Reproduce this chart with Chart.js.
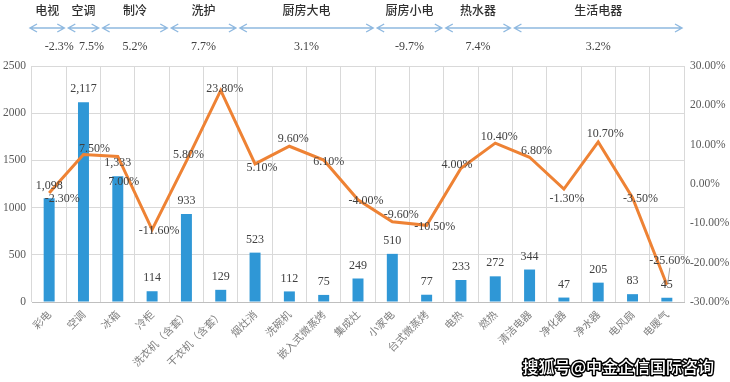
<!DOCTYPE html>
<html><head><meta charset="utf-8">
<script src="https://cdn.jsdelivr.net/npm/chart.js@4"></script>
<style>html,body{margin:0;padding:0;background:#fff}#wrap{width:730px;height:382px;position:relative}</style>
</head><body><div id="wrap"><canvas id="c" width="730" height="382"></canvas></div>
<script>
const categories = ['彩电','空调','冰箱','冷柜','洗衣机（含套）','干衣机（含套）','烟灶消','洗碗机','嵌入式微蒸烤','集成灶','小家电','台式微蒸烤','电热','燃热','清洁电器','净化器','净水器','电风扇','电暖气'];
const salesValues = [1098,2117,1333,114,933,129,523,112,75,249,510,77,233,272,344,47,205,83,45];
const growthRates = [-2.3,7.5,7.0,-11.6,5.8,23.8,5.1,9.6,6.1,-4.0,-9.6,-10.5,4.0,10.4,6.8,-1.3,10.7,-3.5,-25.6];
const groupNames = ['电视','空调','制冷','洗护','厨房大电','厨房小电','热水器','生活电器'];
const groupGrowth = ['-2.3%','7.5%','5.2%','7.7%','3.1%','-9.7%','7.4%','3.2%'];
const groupSizes = [1,1,2,2,4,2,2,5];
const leftTicks = [0,500,1000,1500,2000,2500];
const rightTicks = [-30,-20,-10,0,10,20,30];
const watermark = '搜狐号@中金企信国际咨询';

// label nudges (layout only, relative to library-computed points)
const lineLabelNudge = [[13,6],[11,-6],[6,25],[7,1],[2,-6],[4,-2],[7,4],[4,-7],[5,2],[8,1],[9,-7],[8,2],[-4,-3],[4,-6],[7,-6],[3,10],[7,-8],[8,1],[3,-24]];
const headerPctShift = [12,8,0,0,0,0,0,0];

const SERIF = '"Liberation Serif", "Times New Roman", serif';
const CJK = '"Noto Sans CJK SC", "Noto Sans", sans-serif';

const labelPlugin = {
  id: 'valueLabels',
  afterDatasetsDraw(chart) {
    const ctx = chart.ctx;
    ctx.save();
    ctx.font = '12px ' + SERIF;
    ctx.fillStyle = '#404040';
    ctx.textAlign = 'center';
    ctx.textBaseline = 'middle';
    const barMeta = chart.getDatasetMeta(1);
    barMeta.data.forEach((el, i) => {
      ctx.fillText(salesValues[i].toLocaleString('en-US'), el.x, el.y - 13);
    });
    const lineMeta = chart.getDatasetMeta(0);
    lineMeta.data.forEach((el, i) => {
      const n = lineLabelNudge[i] || [0, 0];
      const tx = el.x + n[0], ty = el.y + n[1];
      if (n[1] < -15) {
        ctx.strokeStyle = '#a6a6a6';
        ctx.lineWidth = 1;
        ctx.beginPath();
        ctx.moveTo(tx, ty + 7);
        ctx.lineTo(el.x + 1, el.y - 2);
        ctx.stroke();
      }
      ctx.fillText(growthRates[i].toFixed(2) + '%', tx, ty);
    });
    ctx.restore();
  }
};

const headerPlugin = {
  id: 'header',
  afterDraw(chart) {
    const ctx = chart.ctx;
    const xs = chart.scales.x;
    const step = xs.getPixelForValue(1) - xs.getPixelForValue(0);
    ctx.save();
    let start = 0;
    groupSizes.forEach((size, g) => {
      const a = xs.getPixelForValue(start) - step / 2 - (g === 0 ? 4 : 0);
      const b = xs.getPixelForValue(start + size - 1) + step / 2;
      start += size;
      const y = 28;
      ctx.strokeStyle = '#8fb9e0';
      ctx.lineWidth = 1.4;
      ctx.beginPath();
      ctx.moveTo(a + 2, y); ctx.lineTo(b - 2, y);
      ctx.moveTo(a + 9, y - 4); ctx.lineTo(a + 2, y); ctx.lineTo(a + 9, y + 4);
      ctx.moveTo(b - 9, y - 4); ctx.lineTo(b - 2, y); ctx.lineTo(b - 9, y + 4);
      ctx.stroke();
      const mid = (a + b) / 2;
      ctx.textAlign = 'center';
      ctx.textBaseline = 'middle';
      ctx.fillStyle = '#303030';
      ctx.font = '500 12px ' + CJK;
      ctx.fillText(groupNames[g], mid, 10);
      ctx.fillStyle = '#404040';
      ctx.font = '12px ' + SERIF;
      ctx.fillText(groupGrowth[g], mid + headerPctShift[g], 47);
    });
    // watermark
    ctx.font = '500 16px ' + CJK;
    ctx.textAlign = 'right';
    ctx.textBaseline = 'middle';
    ctx.lineJoin = 'round';
    ctx.strokeStyle = '#000';
    ctx.lineWidth = 3;
    ctx.strokeText(watermark, 714, 367);
    ctx.fillStyle = '#fff';
    ctx.fillText(watermark, 714, 367);
    ctx.restore();
  }
};

new Chart(document.getElementById('c'), {
  data: {
    labels: categories,
    datasets: [
      {
        type: 'line',
        data: growthRates,
        yAxisID: 'y1',
        borderColor: '#ee8234',
        borderWidth: 3,
        pointRadius: 0,
        tension: 0,
        order: 0
      },
      {
        type: 'bar',
        data: salesValues,
        yAxisID: 'y',
        backgroundColor: '#2f97d6',
        barPercentage: 0.32,
        categoryPercentage: 1,
        order: 1
      }
    ]
  },
  options: {
    responsive: false,
    animation: false,
    devicePixelRatio: 1,
    layout: { padding: { top: 66, left: 0, right: 0, bottom: 0 } },
    plugins: { legend: { display: false }, tooltip: { enabled: false } },
    scales: {
      x: {
        grid: { color: '#d9d9d9', offset: true, drawTicks: false },
        border: { color: '#bfbfbf' },
        ticks: {
          autoSkip: false, maxRotation: 45, minRotation: 45, padding: 6,
          color: '#7f7f7f', font: { family: CJK, size: 10.5 }
        },
        afterFit(s) { s.height = 80; }
      },
      y: {
        position: 'left',
        min: 0, max: 2500,
        afterBuildTicks(s) { s.ticks = leftTicks.map(v => ({ value: v })); },
        grid: { color: '#d9d9d9', drawTicks: false },
        border: { display: false },
        ticks: { color: '#595959', padding: 6, font: { family: SERIF, size: 11.5 }, callback: v => String(v) },
        afterFit(s) { s.width = 32; }
      },
      y1: {
        position: 'right',
        min: -30, max: 30,
        afterBuildTicks(s) { s.ticks = rightTicks.map(v => ({ value: v })); },
        grid: { drawOnChartArea: false, drawTicks: false },
        border: { display: false },
        ticks: { color: '#595959', padding: 6, font: { family: SERIF, size: 11.5 }, callback: v => v.toFixed(2) + '%' },
        afterFit(s) { s.width = 46; }
      }
    }
  },
  plugins: [labelPlugin, headerPlugin]
});
</script></body></html>
